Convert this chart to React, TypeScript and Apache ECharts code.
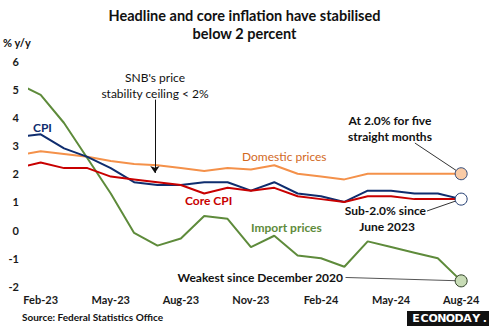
import React, { useEffect, useRef } from "react";
import * as echarts from "echarts";

const months = [
  "Jan-23", "Feb-23", "Mar-23", "Apr-23", "May-23", "Jun-23", "Jul-23", "Aug-23", "Sep-23", "Oct-23",
  "Nov-23", "Dec-23", "Jan-24", "Feb-24", "Mar-24", "Apr-24", "May-24", "Jun-24", "Jul-24", "Aug-24",
];
const cpi = [3.3, 3.4, 2.9, 2.6, 2.2, 1.7, 1.6, 1.6, 1.7, 1.7, 1.4, 1.7, 1.3, 1.2, 1.0, 1.4, 1.4, 1.3, 1.3, 1.1];
const coreCpi = [2.2, 2.4, 2.2, 2.2, 1.9, 1.8, 1.7, 1.6, 1.3, 1.5, 1.4, 1.5, 1.2, 1.1, 1.0, 1.2, 1.2, 1.1, 1.1, 1.1];
const domestic = [2.65, 2.8, 2.7, 2.6, 2.45, 2.35, 2.3, 2.2, 2.1, 2.2, 2.15, 2.3, 2.0, 1.9, 1.8, 2.0, 2.0, 2.0, 2.0, 2.0];
const imports = [5.2, 4.8, 3.8, 2.55, 1.3, -0.1, -0.55, -0.3, 0.5, 0.4, -0.6, -0.2, -0.9, -1.0, -1.3, -0.4, -0.6, -0.8, -1.0, -1.8];
const xTickIdx = [1, 4, 7, 10, 13, 16, 19];
const yTicks = { min: -2, max: 6, interval: 1 };
const snbCeiling = 2;
const logoLetters = ["E", "C", "O", "N", "O", "D", "A", "Y", "."];

const FONT = "Lato, 'Noto Sans', sans-serif";
const last = months.length - 1;
const pts = (arr: number[]) => arr.map((v, i) => [i, v]);

export default function App() {
  const ref = useRef<HTMLDivElement>(null);
  useEffect(() => {
    const chart = echarts.init(ref.current!, null, { renderer: "svg" });
    const leader = (from: number[], to: number[], color = "#333") => [
      { coord: from, lineStyle: { color, width: 1, type: "solid" } },
      { coord: to },
    ];
    const logo = logoLetters.map((ch, i) => ({
      type: "text",
      x: 416 + i * 8.6,
      y: 318.5,
      style: { text: ch, font: `bold 11px 'DejaVu Sans', sans-serif`, fill: "#fff", textAlign: "center", textVerticalAlign: "middle" },
    }));
    chart.setOption({
      animation: false,
      backgroundColor: "#fff",
      textStyle: { fontFamily: FONT },
      title: {
        text: "Headline and core inflation have stabilised\nbelow 2 percent",
        left: "center",
        top: 1,
        textStyle: { fontFamily: FONT, fontSize: 14.5, fontWeight: "bold", color: "#111", lineHeight: 18 },
      },
      grid: { left: 29, right: 15, top: 61, bottom: 39.5, containLabel: false },
      xAxis: {
        type: "value",
        min: 0.5,
        max: 19.55,
        axisLine: { show: false },
        axisTick: { show: false },
        splitLine: { show: false },
        axisLabel: {
          customValues: xTickIdx,
          formatter: (v: number) => months[Math.round(v)],
          fontFamily: FONT,
          fontSize: 11,
          fontWeight: "bold",
          color: "#1a1a1a",
          margin: 7,
        },
      },
      yAxis: {
        type: "value",
        min: yTicks.min,
        max: yTicks.max,
        interval: yTicks.interval,
        axisLine: { show: false },
        axisTick: { show: false },
        splitLine: { show: false },
        axisLabel: { fontFamily: FONT, fontSize: 11, fontWeight: "bold", color: "#1a1a1a", margin: 10 },
      },
      series: [
        {
          name: "Domestic prices",
          type: "line",
          data: pts(domestic),
          showSymbol: false,
          clip: true,
          lineStyle: { color: "#f4914a", width: 2 },
          z: 3,
          markLine: {
            silent: true,
            symbol: ["none", "none"],
            label: { show: false },
            data: [
              [
                { coord: [0.35, snbCeiling], lineStyle: { color: "#333", width: 1, type: [4, 3] } },
                { coord: [last, snbCeiling] },
              ],
              [
                { yAxis: 0, lineStyle: { color: "#d4d4d4", width: 1, type: "solid" } },
                { yAxis: 0 },
              ],
              leader([17.02, 3.09], [last, domestic[last]]),
              leader([17.54, 0.68], [last, cpi[last]]),
              leader([14.05, -1.68], [last, imports[last]], "#555"),
            ],
          },
          markPoint: {
            silent: true,
            symbol: "circle",
            symbolSize: 12,
            label: { show: false },
            itemStyle: { color: "#f9cba6", borderColor: "#2f4a7a", borderWidth: 1 },
            data: [{ coord: [last, domestic[last]] }],
          },
        },
        {
          name: "Import prices",
          type: "line",
          data: pts(imports),
          showSymbol: false,
          clip: true,
          lineStyle: { color: "#5e8b3b", width: 2 },
          z: 3,
          markPoint: {
            silent: true,
            symbol: "circle",
            symbolSize: 12,
            label: { show: false },
            itemStyle: { color: "#c8dcb6", borderColor: "#2d3f24", borderWidth: 1 },
            data: [{ coord: [last, imports[last]] }],
          },
        },
        {
          name: "CPI",
          type: "line",
          data: pts(cpi),
          showSymbol: false,
          clip: true,
          lineStyle: { color: "#0f2d6e", width: 2 },
          z: 3,
          markPoint: {
            silent: true,
            symbol: "circle",
            symbolSize: 12,
            label: { show: false },
            itemStyle: { color: "#ffffff", borderColor: "#1f3a70", borderWidth: 1 },
            data: [{ coord: [last, cpi[last]] }],
          },
        },
        {
          name: "Core CPI",
          type: "line",
          data: pts(coreCpi),
          showSymbol: false,
          clip: true,
          lineStyle: { color: "#c80000", width: 2 },
          z: 4,
          markLine: {
            silent: true,
            symbol: ["none", "arrow"],
            symbolSize: 7,
            label: { show: false },
            data: [
              [
                { coord: [5.89, 4.63], lineStyle: { color: "#111", width: 1, type: "solid" } },
                { coord: [5.89, snbCeiling + 0.03] },
              ],
            ],
          },
        },
      ],
      graphic: [
        { type: "text", x: 3, y: 42, style: { text: "% y/y", font: `bold 11px ${FONT}`, fill: "#111", textVerticalAlign: "middle" } },
        { type: "text", x: 155, y: 77, style: { text: "SNB's price", font: `12px ${FONT}`, fill: "#111", textAlign: "center", textVerticalAlign: "middle" } },
        { type: "text", x: 155, y: 93, style: { text: "stability ceiling < 2%", font: `12px ${FONT}`, fill: "#111", textAlign: "center", textVerticalAlign: "middle" } },
        { type: "text", x: 33, y: 127, style: { text: "CPI", font: `bold 12px ${FONT}`, fill: "#0f2d6e", textVerticalAlign: "middle" } },
        { type: "text", x: 242, y: 156, style: { text: "Domestic prices", font: `12px ${FONT}`, fill: "#d2691e", textVerticalAlign: "middle" } },
        { type: "text", x: 185, y: 200, style: { text: "Core CPI", font: `bold 12px ${FONT}`, fill: "#c80000", textVerticalAlign: "middle" } },
        { type: "text", x: 251, y: 227, style: { text: "Import prices", font: `bold 12px ${FONT}`, fill: "#5e8b3b", textVerticalAlign: "middle" } },
        { type: "text", x: 390, y: 120, style: { text: "At 2.0% for five", font: `bold 12px ${FONT}`, fill: "#111", textAlign: "center", textVerticalAlign: "middle" } },
        { type: "text", x: 390, y: 136, style: { text: "straight months", font: `bold 12px ${FONT}`, fill: "#111", textAlign: "center", textVerticalAlign: "middle" } },
        { type: "text", x: 426, y: 210, style: { text: "Sub-2.0% since", font: `bold 12px ${FONT}`, fill: "#111", textAlign: "right", textVerticalAlign: "middle" } },
        { type: "text", x: 387, y: 226, style: { text: "June 2023", font: `bold 12px ${FONT}`, fill: "#111", textAlign: "center", textVerticalAlign: "middle" } },
        { type: "text", x: 343, y: 277, style: { text: "Weakest since December 2020", font: `bold 12px ${FONT}`, fill: "#111", textAlign: "right", textVerticalAlign: "middle" } },
        { type: "text", x: 22, y: 317, style: { text: "Source: Federal Statistics Office", font: `bold 10px ${FONT}`, fill: "#111", textVerticalAlign: "middle" } },
        { type: "rect", shape: { x: 407, y: 311, width: 82, height: 15 }, style: { fill: "#111" } },
        ...logo,
      ],
    });
    return () => chart.dispose();
  }, []);
  return <div ref={ref} style={{ position: "fixed", left: 0, top: 0, width: 489, height: 326 }} />;
}
